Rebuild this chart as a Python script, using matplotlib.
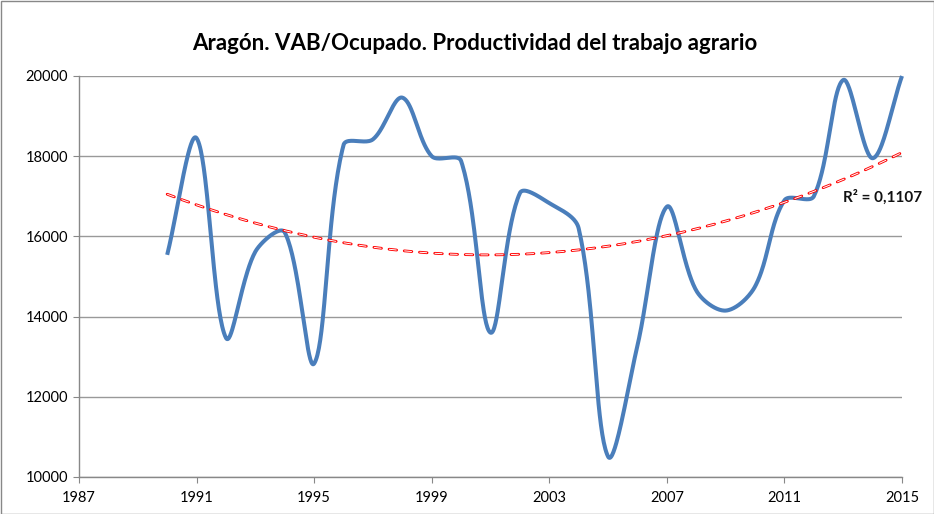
import numpy as np
import matplotlib
matplotlib.use("Agg")
import matplotlib.pyplot as plt
from matplotlib.patches import Rectangle

years = [1990, 1991, 1992, 1993, 1994, 1995, 1996, 1997, 1998, 1999, 2000, 2001, 2002,
         2003, 2004, 2005, 2006, 2007, 2008, 2009, 2010, 2011, 2012, 2013, 2014, 2015]
values = [15540, 18450, 13470, 15620, 16100, 12830, 18280, 18420, 19460, 18000, 17880, 13600, 17080,
          16830, 16200, 10510, 13280, 16740, 14650, 14150, 14750, 16900, 17000, 19900, 17950, 20000]
x_ticks = [1987, 1991, 1995, 1999, 2003, 2007, 2011, 2015]
y_ticks = [10000, 12000, 14000, 16000, 18000, 20000]
title = "Aragón. VAB/Ocupado. Productividad del trabajo agrario"
r2_label = "R² = 0,1107"

plt.rcParams['font.family'] = ['Lato', 'DejaVu Sans']
plt.rcParams['lines.scale_dashes'] = False

XS = 29.4          # px per year (screen scaling for smoothing)
YS = 40.1 / 1000   # px per unit

def excel_smooth(x, y, n=40):
    P = np.column_stack([np.asarray(x, float) * XS, np.asarray(y, float) * YS])
    N = len(P)
    out = []
    for i in range(N - 1):
        p0 = P[i-1] if i > 0 else P[i]
        p1 = P[i]; p2 = P[i+1]
        p3 = P[i+2] if i + 2 < N else P[i+1]
        d01 = np.linalg.norm(p1 - p0); d12 = np.linalg.norm(p2 - p1); d23 = np.linalg.norm(p3 - p2)
        f1 = d12 / (d01 + d12) if d01 + d12 > 0 else 0.5
        f2 = d12 / (d12 + d23) if d12 + d23 > 0 else 0.5
        c1 = p1 + (p2 - p0) * f1 / 3.0
        c2 = p2 - (p3 - p1) * f2 / 3.0
        t = np.linspace(0, 1, n, endpoint=(i == N-2))[:, None]
        seg = (1-t)**3 * p1 + 3*(1-t)**2*t * c1 + 3*(1-t)*t**2 * c2 + t**3 * p2
        out.append(seg)
    S = np.vstack(out)
    return S[:, 0] / XS, S[:, 1] / YS

fig = plt.figure(figsize=(9.34, 5.14), dpi=100)
ax = fig.add_axes([79/934, 1-477/514, (902-79)/934, (477-76)/514])

sx, sy = excel_smooth(years, values)
ax.plot(sx, sy, color='#4A7EBB', lw=2.9, solid_capstyle='butt', zorder=3, clip_on=False)

coef = np.polyfit(years, values, 2)
tx = np.linspace(years[0], years[-1], 300)
ty = np.polyval(coef, tx)
ax.plot(tx, ty, color='#FF0000', lw=2.0, dashes=(5.5, 5.5), dash_capstyle='round', zorder=4)
ax.plot(tx, ty, color='white', lw=0.7, dashes=(5.5, 5.5), dash_capstyle='butt', zorder=5)

ax.text(843/934, 1-197/514, r2_label, transform=fig.transFigure, ha='left', va='center',
        fontsize=11, fontweight='bold', color='#111111')

ax.set_xlim(1987, 2015)
ax.set_ylim(10000, 20000)
ax.set_xticks(x_ticks)
ax.set_yticks(y_ticks)
ax.tick_params(axis='both', direction='out', length=4, color='#888888', labelsize=10.5, pad=6)
ax.tick_params(axis='y', pad=4)
ax.yaxis.grid(True, color='#999999', lw=1.0)
ax.set_axisbelow(True)
for s in ['top', 'right']:
    ax.spines[s].set_visible(False)
for s in ['left', 'bottom']:
    ax.spines[s].set_color('#888888')
    ax.spines[s].set_linewidth(1.0)

fig.text(475/934, 1-44/514, title, ha='center', va='center', fontsize=16, fontweight='bold')
fig.patches.append(Rectangle((0.5/934, 0.5/514), 1-1/934, 1-1/514, transform=fig.transFigure,
                             fill=False, edgecolor='#888888', lw=1))

fig.savefig('out.png', dpi=100)
